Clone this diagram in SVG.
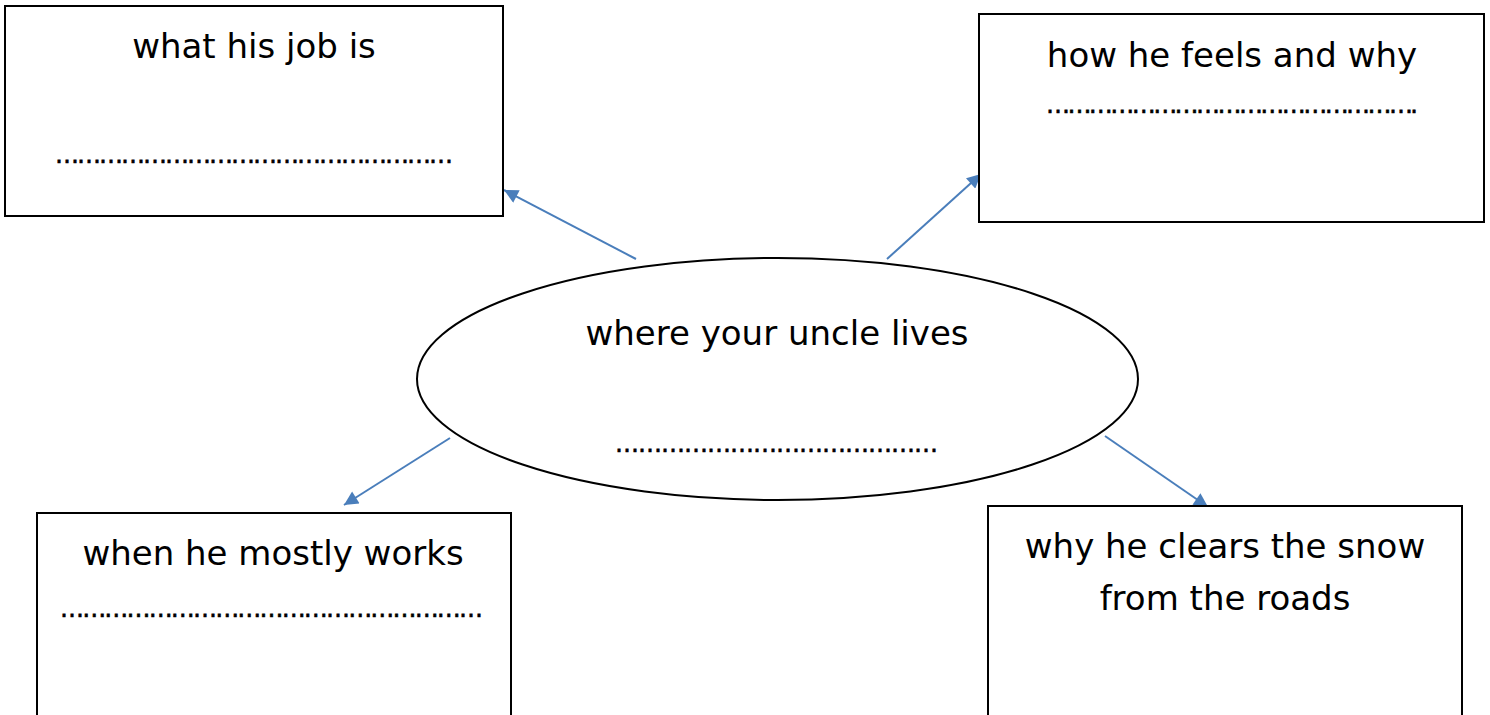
<svg xmlns="http://www.w3.org/2000/svg" width="1490" height="715" viewBox="0 0 1490 715">
<style>
.box{fill:#fff;stroke:#000;stroke-width:2}
.t{font-family:"DejaVu Sans","Liberation Sans",sans-serif;font-size:34px;fill:#000;text-anchor:middle}
.d{font-family:"DejaVu Sans","Liberation Sans",sans-serif;font-size:24px;fill:#000;stroke:#000;stroke-width:0.6}
.c{stroke:#4a7ebb;stroke-width:2;fill:none}
</style>
<defs>
<marker id="ah" viewBox="0 0 10 10" refX="10" refY="5" markerWidth="7.5" markerHeight="7" orient="auto" markerUnits="strokeWidth">
<path d="M0,0 L10,5 L0,10 z" fill="#4a7ebb"/>
</marker>
</defs>
<rect width="1490" height="715" fill="#fff"/>
<g id="connectors">
<line class="c" x1="636" y1="259" x2="504" y2="190" marker-end="url(#ah)"/>
<line class="c" x1="887" y1="259" x2="981" y2="174" marker-end="url(#ah)"/>
<line class="c" x1="450" y1="438" x2="344" y2="505" marker-end="url(#ah)"/>
<line class="c" x1="1105" y1="436" x2="1208" y2="507" marker-end="url(#ah)"/>
</g>
<g id="node-center">
<ellipse cx="777.5" cy="379" rx="360.5" ry="121" fill="#fff" stroke="#000" stroke-width="2"/>
<text class="t" x="777" y="345">where your uncle lives</text>
<text class="d" x="615" y="452" textLength="323" lengthAdjust="spacing">……………………………………</text>
</g>
<g id="node-job">
<rect class="box" x="5" y="6" width="498" height="210"/>
<text class="t" x="254" y="58">what his job is</text>
<text class="d" x="55" y="163" textLength="398" lengthAdjust="spacing">………………………………………………</text>
</g>
<g id="node-feels">
<rect class="box" x="979" y="14" width="505" height="208"/>
<text class="t" x="1232" y="67">how he feels and why</text>
<text class="d" x="1046" y="113" textLength="372" lengthAdjust="spacing">…………………………………………….</text>
</g>
<g id="node-when">
<rect class="box" x="37" y="513" width="474" height="210"/>
<text class="t" x="273" y="565">when he mostly works</text>
<text class="d" x="60" y="617" textLength="423" lengthAdjust="spacing">…………………………………………………</text>
</g>
<g id="node-why">
<rect class="box" x="988" y="506" width="474" height="217"/>
<text class="t" x="1225" y="558">why he clears the snow</text>
<text class="t" x="1225" y="610">from the roads</text>
</g>
</svg>
